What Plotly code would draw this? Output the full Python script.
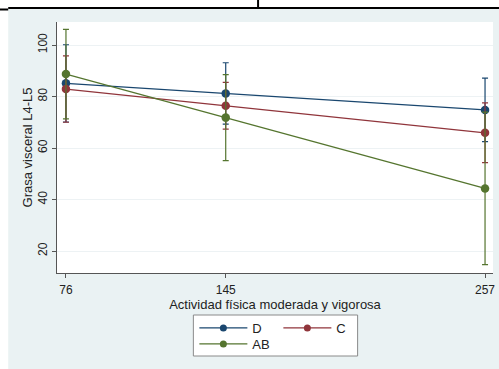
import plotly.graph_objects as go

x_vals = [76, 145, 257]
series_names = ["D", "C", "AB"]
d_mean = [85.1, 81.2, 74.8]
d_err = [15.0, 11.9, 12.3]
c_mean = [82.9, 76.4, 65.9]
c_err = [12.9, 9.1, 11.6]
ab_mean = [88.7, 71.8, 44.3]
ab_err = [17.4, 16.7, 29.6]
colors = ["#1a476f", "#90353b", "#55752f"]
y_ticks = [20, 40, 60, 80, 100]
x_ticks = [76, 145, 257]

means = [d_mean, c_mean, ab_mean]
errs = [d_err, c_err, ab_err]

fig = go.Figure()
for i, (name, m, e, col) in enumerate(zip(series_names, means, errs, colors)):
    fig.add_trace(go.Scatter(
        x=x_vals, y=m, name=name, mode="lines+markers",
        line=dict(color=col, width=1.3),
        marker=dict(color=col, size=8.5),
        error_y=dict(type="data", array=e, visible=True, color=col, thickness=1.2, width=3),
        showlegend=False,
    ))
# legend entries (smaller markers as in the reference)
for i, (name, col) in enumerate(zip(series_names, colors)):
    fig.add_trace(go.Scatter(
        x=[None], y=[None], name=name, mode="lines+markers",
        line=dict(color=col, width=1.3),
        marker=dict(color=col, size=7),
        legend="legend" if i < 2 else "legend2",
    ))

L, R, T, B = 57, 4, 22, 96
W, H = 499, 369
pw, ph = W - L - R, H - T - B

def px(x):
    return (x - L) / pw

def py(y):
    return (H - B - y) / ph

bg = "#EAF2F3"
shapes = [
    dict(type="rect", xref="paper", yref="paper", x0=px(-5), x1=px(510), y0=py(8.5), y1=py(-5),
         fillcolor="white", line=dict(width=0), layer="above"),
    dict(type="rect", xref="paper", yref="paper", x0=px(-5), x1=px(8), y0=py(380), y1=py(-5),
         fillcolor="white", line=dict(width=0), layer="above"),
    dict(type="line", xref="paper", yref="paper", x0=px(8), x1=px(510), y0=py(8), y1=py(8),
         line=dict(color="black", width=2)),
    dict(type="line", xref="paper", yref="paper", x0=px(-5), x1=px(8), y0=py(9.5), y1=py(9.5),
         line=dict(color="black", width=2)),
    dict(type="line", xref="paper", yref="paper", x0=px(259), x1=px(259), y0=py(-5), y1=py(8),
         line=dict(color="black", width=2)),
    dict(type="rect", xref="paper", yref="paper", x0=px(194), x1=px(359), y0=py(356), y1=py(315),
         fillcolor="white", line=dict(color="#8a8a8a", width=1), layer="below"),
]

font = dict(family="Liberation Sans, Arial, sans-serif", size=12, color="#222222")

fig.update_layout(
    width=W, height=H,
    margin=dict(l=L, r=R, t=T, b=B, pad=0),
    paper_bgcolor=bg, plot_bgcolor="white",
    font=font,
    shapes=shapes,
    showlegend=True,
    legend=dict(orientation="h", x=px(195), xanchor="left", y=py(313), yanchor="top",
                bgcolor="rgba(0,0,0,0)", entrywidth=21, entrywidthmode="pixels",
                font=dict(size=13, color="#222222"), itemwidth=48, tracegroupgap=0),
    legend2=dict(orientation="h", x=px(195), xanchor="left", y=py(329), yanchor="top",
                 bgcolor="rgba(0,0,0,0)", entrywidth=21, entrywidthmode="pixels",
                 font=dict(size=13, color="#222222"), itemwidth=48),
)

fig.update_xaxes(
    range=[72.13, 260.44], tickvals=x_ticks, ticktext=[str(v) for v in x_ticks],
    showgrid=False, zeroline=False, showline=True, linecolor="#555555", linewidth=1,
    ticks="outside", ticklen=4, tickcolor="#555555", ticklabelstandoff=2,
    tickfont=dict(size=12, color="#222222"),
    title=dict(text="Actividad física moderada y vigorosa", font=dict(size=13, color="#222222"), standoff=0),
)
fig.update_yaxes(
    range=[11.46, 108.93], tickvals=y_ticks, tickangle=-90,
    showgrid=True, gridcolor="#EDF2F4", gridwidth=1, zeroline=False,
    showline=True, linecolor="#555555", linewidth=1,
    ticks="outside", ticklen=4, tickcolor="#555555",
    tickfont=dict(size=12, color="#222222"),
    title=dict(text="Grasa visceral L4-L5", font=dict(size=13, color="#222222"), standoff=0),
)

fig.write_html("out.html")
